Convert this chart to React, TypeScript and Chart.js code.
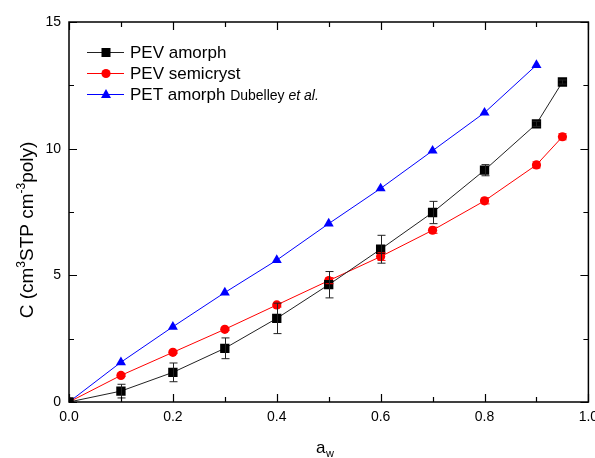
import React, { useEffect, useRef } from "react";
import { Chart, registerables } from "chart.js";

Chart.register(...registerables);

// ---- data ----
const awValues = [0, 0.1, 0.2, 0.3, 0.4, 0.5, 0.6, 0.7, 0.8, 0.9, 0.95];
const pevAmorph = [0, 0.43, 1.17, 2.12, 3.3, 4.63, 6.03, 7.48, 9.15, 10.98, 12.63];
const pevAmorphErr = [0, 0.27, 0.37, 0.41, 0.6, 0.52, 0.55, 0.44, 0.22, 0.1, 0.08];
const pevSemicryst = [0, 1.05, 1.96, 2.87, 3.83, 4.79, 5.74, 6.78, 7.94, 9.36, 10.47];
const pevSemicrystErr = [0, 0.04, 0.05, 0.05, 0.08, 0.12, 0.15, 0.12, 0.12, 0.12, 0.12];
const awPet = [0, 0.1, 0.2, 0.3, 0.4, 0.5, 0.6, 0.7, 0.8, 0.9];
const petAmorph = [0, 1.57, 2.97, 4.32, 5.6, 7.04, 8.43, 9.92, 11.42, 13.3];

const xMajorTicks = [0, 0.2, 0.4, 0.6, 0.8, 1.0];
const xMinorTicks = [0.1, 0.3, 0.5, 0.7, 0.9];
const yMajorTicks = [0, 5, 10, 15];
const yMinorTicks = [2.5, 7.5, 12.5];

const FONT = "'Liberation Sans', Arial, sans-serif";

const toPts = (xs: number[], ys: number[]) => xs.map((x, i) => ({ x, y: ys[i] }));

const errorBarPlugin = {
  id: "errorBars",
  afterDatasetsDraw(chart: any) {
    const { ctx, scales } = chart;
    const xs = scales.x;
    const ys = scales.y;
    const sets = [
      { y: pevSemicryst, e: pevSemicrystErr, color: "#ff0000" },
      { y: pevAmorph, e: pevAmorphErr, color: "#222222" },
    ];
    ctx.save();
    ctx.lineWidth = 1;
    for (const s of sets) {
      ctx.strokeStyle = s.color;
      awValues.forEach((xv, i) => {
        if (!s.e[i]) return;
        const px = Math.round(xs.getPixelForValue(xv)) + 0.5;
        const top = ys.getPixelForValue(s.y[i] + s.e[i]);
        const bot = ys.getPixelForValue(s.y[i] - s.e[i]);
        ctx.beginPath();
        ctx.moveTo(px, top);
        ctx.lineTo(px, bot);
        ctx.moveTo(px - 4, top);
        ctx.lineTo(px + 4, top);
        ctx.moveTo(px - 4, bot);
        ctx.lineTo(px + 4, bot);
        ctx.stroke();
      });
    }
    ctx.restore();
  },
};

const framePlugin = {
  id: "frame",
  afterDraw(chart: any) {
    const { ctx, chartArea, scales } = chart;
    const { left, right, top, bottom } = chartArea;
    ctx.save();
    ctx.strokeStyle = "#000";
    ctx.lineWidth = 1.5;
    ctx.strokeRect(left, top, right - left, bottom - top);
    ctx.lineWidth = 1.2;
    const tick = (vals: number[], len: number) => {
      for (const v of vals) {
        const px = Math.round(scales.x.getPixelForValue(v)) + 0.5;
        ctx.beginPath();
        ctx.moveTo(px, bottom);
        ctx.lineTo(px, bottom - len);
        ctx.moveTo(px, top);
        ctx.lineTo(px, top + len);
        ctx.stroke();
      }
    };
    const tickY = (vals: number[], len: number) => {
      for (const v of vals) {
        const py = Math.round(scales.y.getPixelForValue(v)) + 0.5;
        ctx.beginPath();
        ctx.moveTo(left, py);
        ctx.lineTo(left + len, py);
        ctx.moveTo(right, py);
        ctx.lineTo(right - len, py);
        ctx.stroke();
      }
    };
    tick(xMajorTicks, 8);
    tick(xMinorTicks, 5);
    tickY(yMajorTicks, 8);
    tickY(yMinorTicks, 5);

    // Axis titles
    ctx.fillStyle = "#000";
    // x title: a_w
    const xc = (left + right) / 2 - 4;
    ctx.font = `17px ${FONT}`;
    ctx.textBaseline = "alphabetic";
    ctx.textAlign = "left";
    const aW = ctx.measureText("a").width;
    ctx.font = `11px ${FONT}`;
    const wW = ctx.measureText("w").width;
    const startX = xc - (aW + wW) / 2;
    ctx.font = `17px ${FONT}`;
    ctx.fillText("a", startX, 453);
    ctx.font = `11px ${FONT}`;
    ctx.fillText("w", startX + aW + 0.5, 457);

    // y title rotated
    const parts: [string, boolean][] = [
      ["C (cm", false],
      ["3", true],
      ["STP cm", false],
      ["-3", true],
      ["poly)", false],
    ];
    const mainF = `19px ${FONT}`;
    const supF = `12px ${FONT}`;
    let total = 0;
    for (const [t, sup] of parts) {
      ctx.font = sup ? supF : mainF;
      total += ctx.measureText(t).width;
    }
    ctx.translate(33, 230);
    ctx.rotate(-Math.PI / 2);
    let cx = -total / 2;
    for (const [t, sup] of parts) {
      ctx.font = sup ? supF : mainF;
      ctx.fillText(t, cx, sup ? -8 : 0);
      cx += ctx.measureText(t).width;
    }
    ctx.restore();

    // Legend
    ctx.save();
    const rows = [
      { color: "#000000", line: "#222222", style: "rect" },
      { color: "#ff0000", line: "#ff0000", style: "circle" },
      { color: "#0000ff", line: "#0000ff", style: "triangle" },
    ];
    const rowY = [52, 73, 94];
    rows.forEach((r, i) => {
      const y = rowY[i];
      ctx.strokeStyle = r.line;
      ctx.lineWidth = 1;
      ctx.beginPath();
      ctx.moveTo(87, y + 0.5);
      ctx.lineTo(124, y + 0.5);
      ctx.stroke();
      ctx.fillStyle = r.color;
      ctx.beginPath();
      if (r.style === "rect") {
        ctx.rect(101.5, y - 4, 9, 9);
      } else if (r.style === "circle") {
        ctx.arc(106, y + 0.5, 4.6, 0, Math.PI * 2);
      } else {
        ctx.moveTo(106, y - 5);
        ctx.lineTo(111, y + 4);
        ctx.lineTo(101, y + 4);
        ctx.closePath();
      }
      ctx.fill();
    });
    ctx.fillStyle = "#000";
    ctx.textBaseline = "middle";
    ctx.textAlign = "left";
    ctx.font = `17px ${FONT}`;
    ctx.fillText("PEV amorph", 130, rowY[0] + 1);
    ctx.fillText("PEV semicryst", 130, rowY[1] + 1);
    const t3 = "PET amorph ";
    ctx.fillText(t3, 130, rowY[2] + 1);
    let lx = 130 + ctx.measureText(t3).width;
    ctx.font = `14px ${FONT}`;
    ctx.fillText("Dubelley ", lx, rowY[2] + 2);
    lx += ctx.measureText("Dubelley ").width;
    ctx.font = `italic 14px ${FONT}`;
    ctx.fillText("et al.", lx, rowY[2] + 2);
    ctx.restore();
  },
};

export default function App() {
  const ref = useRef<HTMLCanvasElement | null>(null);
  useEffect(() => {
    if (!ref.current) return;
    const chart = new Chart(ref.current, {
      type: "scatter",
      data: {
        datasets: [
          {
            label: "PEV amorph",
            data: toPts(awValues, pevAmorph),
            showLine: true,
            borderColor: "#222222",
            backgroundColor: "#000000",
            borderWidth: 1,
            pointStyle: "rect",
            pointRadius: 6.6,
            pointBorderWidth: 0,
            pointBackgroundColor: "#000000",
          },
          {
            label: "PEV semicryst",
            data: toPts(awValues, pevSemicryst),
            showLine: true,
            borderColor: "#ff0000",
            backgroundColor: "#ff0000",
            borderWidth: 1,
            pointStyle: "circle",
            pointRadius: 4.6,
            pointBorderWidth: 0,
            pointBackgroundColor: "#ff0000",
          },
          {
            label: "PET amorph Dubelley et al.",
            data: toPts(awPet, petAmorph),
            showLine: true,
            borderColor: "#0000ff",
            backgroundColor: "#0000ff",
            borderWidth: 1,
            pointStyle: "triangle",
            pointRadius: 5.8,
            pointBorderWidth: 0,
            pointBackgroundColor: "#0000ff",
          },
        ],
      },
      options: {
        responsive: false,
        animation: false,
        layout: { padding: { left: 0, right: 4, top: 22, bottom: 0 } },
        plugins: {
          legend: { display: false },
          tooltip: { enabled: false },
        },
        scales: {
          x: {
            type: "linear",
            min: 0,
            max: 1.0,
            grid: { display: false, drawTicks: false },
            border: { display: false },
            ticks: {
              stepSize: 0.2,
              padding: 7,
              color: "#000",
              font: { family: FONT, size: 14 },
              maxRotation: 0,
              callback: (v: any) => Number(v).toFixed(1),
            },
            afterFit: (s: any) => {
              s.height = 56;
              s.paddingLeft = 0;
              s.paddingRight = 0;
            },
          },
          y: {
            type: "linear",
            min: 0,
            max: 15,
            grid: { display: false, drawTicks: false },
            border: { display: false },
            ticks: {
              stepSize: 5,
              padding: 8,
              color: "#000",
              font: { family: FONT, size: 14 },
            },
            afterFit: (s: any) => {
              s.width = 69;
              s.paddingTop = 0;
              s.paddingBottom = 0;
            },
          },
        },
      } as any,
      plugins: [errorBarPlugin, framePlugin],
    });
    return () => chart.destroy();
  }, []);
  return (
    <div style={{ position: "absolute", left: 0, top: 0, width: 595, height: 458, background: "#fff" }}>
      <canvas ref={ref} width={595} height={458} style={{ width: 595, height: 458, display: "block" }} />
    </div>
  );
}
